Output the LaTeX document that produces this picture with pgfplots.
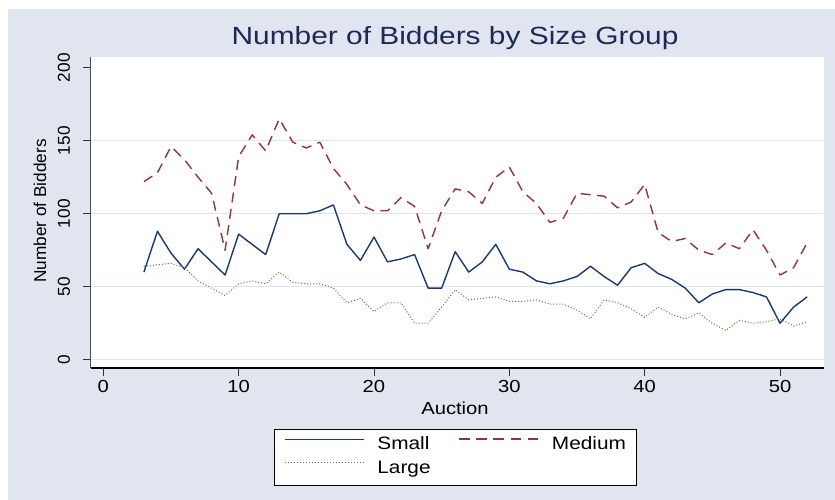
\documentclass[border=0pt]{standalone}
\usepackage{pgfplots}
\pgfplotsset{compat=1.18}
\usepackage{pgfplotstable}
\usepackage{graphicx}
\usepackage{fontspec}
\setmainfont{Liberation Sans}[FakeStretch=1.16]
\newfontfamily\rotfont{Liberation Sans}
\newfontfamily\titlefont{Liberation Sans}[FakeStretch=1.2]
\definecolor{bgc}{RGB}{224,229,240}
\definecolor{gridc}{RGB}{222,228,240}
\definecolor{navyc}{RGB}{26,58,110}
\definecolor{maroonc}{RGB}{144,53,59}
\definecolor{greenc}{RGB}{95,125,55}
\definecolor{titlec}{RGB}{28,42,85}

\pgfplotstableread{
x small medium large
3 60 122 64
4 88 128 65
5 73 146 66
6 62 137 63
7 76 125 54
8 67 114 49
9 58 75 44
10 86 139 52
11 79 154 54
12 72 143 52
13 100 165 60
14 100 149 53
15 100 145 52
16 102 149 52
17 106 131 49
18 79 120 39
19 68 106 42
20 84 102 33
21 67 102 39
22 69 111 39
23 72 105 25
24 49 76 25
25 49 102 36
26 74 117 48
27 60 115 41
28 67 107 42
29 79 125 43
30 62 132 40
31 60 115 40
32 54 107 41
33 52 94 38
34 54 97 38
35 57 114 34
36 64 113 28
37 57 112 41
38 51 104 39
39 63 108 35
40 66 120 29
41 59 87 36
42 55 81 31
43 49 83 28
44 39 75 32
45 45 72 25
46 48 80 20
47 48 76 27
48 46 89 25
49 43 75 26
50 25 58 28
51 36 63 23
52 43 80 26
}\datatable

\begin{document}
\begin{tikzpicture}
\fill[white] (-91bp,-132bp) rectangle (744bp,368bp);
\fill[bgc] (-83bp,-132bp) rectangle (744bp,359bp);
\useasboundingbox (-91bp,-132bp) rectangle (744bp,368bp);
\begin{axis}[
  at={(0,0)}, anchor=south west,
  scale only axis, width=733bp, height=311bp,
  xmin=-0.909, xmax=53.25, ymin=-5.685, ymax=207.33,
  axis background/.style={fill=white},
  axis x line=bottom, axis y line=left,
  axis line style={-},
  x axis line style={black, line width=1.1bp},
  y axis line style={black!70, line width=1bp},
  xtick={0,10,...,50}, ytick={0,50,...,200},
  tick align=outside, major tick length=8bp,
  tick style={black!80, line width=0.8bp},
  extra y ticks={0,50,100,150}, extra y tick labels={},
  extra y tick style={grid=major, major tick length=0pt},
  grid style={gridc, line width=1.5bp},
  /pgf/number format/assume math mode=true,
  xticklabel style={font=\fontsize{17.5}{20}\selectfont, anchor=base, inner sep=0pt, yshift=-16bp},
  yticklabel={\rotatebox{90}{\pgfmathprintnumber{\tick}}},
  yticklabel style={anchor=east, inner sep=0pt, xshift=-12.8bp, font=\rotfont\fontsize{17.3}{20}\selectfont},
  title={Number of Bidders by Size Group},
  title style={at={(axis description cs:0.4966,1.0198)}, anchor=base, inner sep=0pt, font=\titlefont\fontsize{25}{28}\selectfont, text=titlec},
  xlabel={Auction},
  xlabel style={at={(axis description cs:0.4966,-0.1486)}, anchor=base, inner sep=0pt, font=\fontsize{17.5}{20}\selectfont},
  ylabel={Number of Bidders},
  ylabel style={at={(axis description cs:-0.0611,0.5048)}, anchor=base, inner sep=0pt, font=\rotfont\fontsize{17.3}{20}\selectfont},
  legend columns=2,
  legend cell align=left,
  legend style={at={(axis description cs:0.2497,-0.1961)}, anchor=north west, draw=black, fill=white,
    inner xsep=10bp, inner ysep=8bp, font=\fontsize{18}{20}\selectfont,
    nodes={inner sep=0pt, text height=12.5bp, text depth=4bp},
    row sep=7.2bp,
    /tikz/every odd column/.append style={column sep=13bp},
    /tikz/every even column/.append style={column sep=28bp}},
]
\addplot[draw=navyc, line width=1.4bp, line join=round,
  legend image code/.code={\draw[navyc, line width=1.2bp, solid] (0bp,6.3bp) -- (79bp,6.3bp);}]
  table[x=x, y=small] {\datatable};
\addlegendentry{Small}
\addplot[draw=maroonc, line width=1.4bp, dash pattern=on 10bp off 6.5bp, line join=round,
  legend image code/.code={\draw[maroonc, line width=1.3bp, dash pattern=on 10.5bp off 6.6bp] (0bp,6.3bp) -- (79bp,6.3bp);}]
  table[x=x, y=medium] {\datatable};
\addlegendentry{Medium}
\addplot[draw=greenc, line width=1bp, dash pattern=on 1bp off 2bp,
  legend image code/.code={\draw[greenc, line width=1bp, dash pattern=on 1bp off 2bp] (0bp,6.3bp) -- (79bp,6.3bp);}]
  table[x=x, y=large] {\datatable};
\addlegendentry{Large}
\end{axis}
\end{tikzpicture}
\end{document}
